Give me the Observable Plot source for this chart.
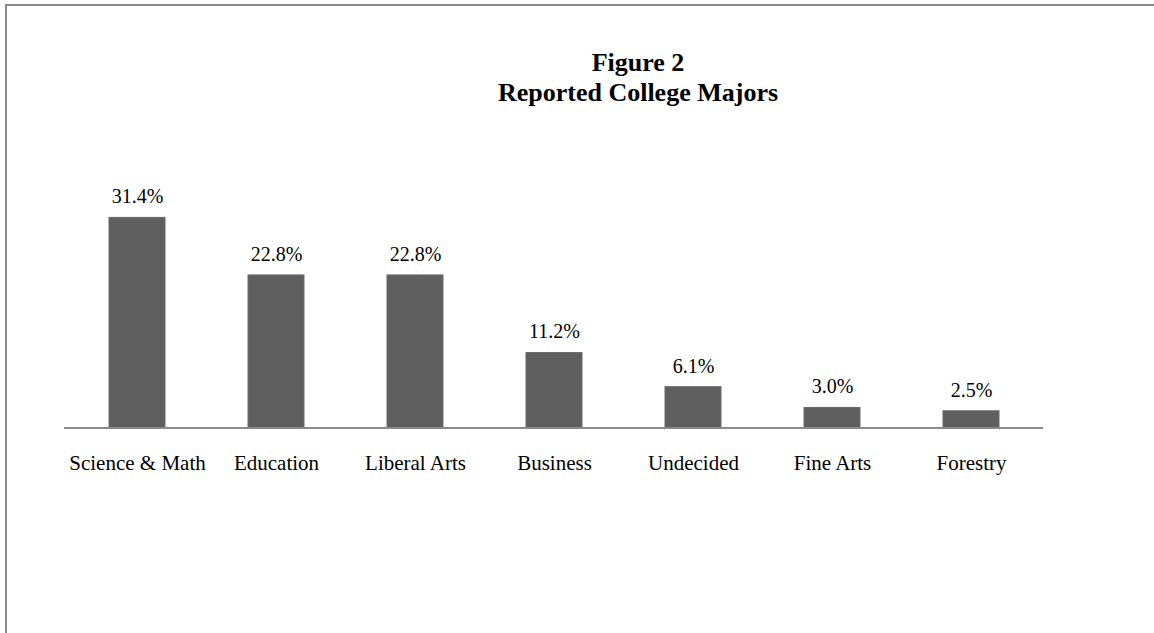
<!DOCTYPE html>
<html>
<head>
<meta charset="utf-8">
<script src="https://cdn.jsdelivr.net/npm/d3@7"></script>
<script src="https://cdn.jsdelivr.net/npm/@observablehq/plot@0.6"></script>
<style>
  html, body { margin: 0; padding: 0; background: #fff; }
  #wrap { position: relative; width: 1154px; height: 633px; overflow: hidden; }
  #frame { position: absolute; left: 5px; top: 4px; right: -10px; bottom: -10px;
           border-top: 2px solid #8a8a8a; border-left: 2px solid #8a8a8a; }
  #title { position: absolute; left: 338px; width: 600px; top: 48px; text-align: center;
           font-family: "Liberation Serif", "Times New Roman", serif; font-weight: bold;
           font-size: 26px; line-height: 30px; color: #000; }
  #chart { position: absolute; left: 0; top: 0; }
</style>
</head>
<body>
<div id="wrap">
  <div id="frame"></div>
  <div id="chart"></div>
  <div id="title">Figure 2<br>Reported College Majors</div>
</div>
<script>
const categories = ["Science & Math", "Education", "Liberal Arts", "Business", "Undecided", "Fine Arts", "Forestry"];
const values = [31.4, 22.8, 22.8, 11.2, 6.1, 3.0, 2.5];
const labels = ["31.4%", "22.8%", "22.8%", "11.2%", "6.1%", "3.0%", "2.5%"];

const data = categories.map((c, i) => ({category: c, value: values[i], label: labels[i]}));

const chart = Plot.plot({
  width: 1154,
  height: 633,
  marginLeft: 64,
  marginRight: 111,
  marginTop: 193.3,
  marginBottom: 205.5,
  style: {fontFamily: "'Liberation Serif', 'Times New Roman', serif", fontSize: "20px", color: "#000", background: "transparent"},
  x: {domain: categories, paddingInner: 0.6, paddingOuter: 0.3, label: null},
  y: {domain: [0, 35], axis: null},
  marks: [
    Plot.barY(data, {x: "category", y: "value", fill: "#5f5f5f", stroke: "#6a6a6a", strokeWidth: 1}),
    Plot.ruleY([0], {stroke: "#8a8a8a", strokeWidth: 2}),
    Plot.text(data, {x: "category", y: "value", text: "label", dy: -21, fontSize: 20, fill: "#000"}),
    Plot.axisX({tickSize: 0, tickPadding: 27.5, fontSize: 21, label: null, fill: "#000"})
  ]
});
document.getElementById("chart").appendChild(chart);
</script>
</body>
</html>
